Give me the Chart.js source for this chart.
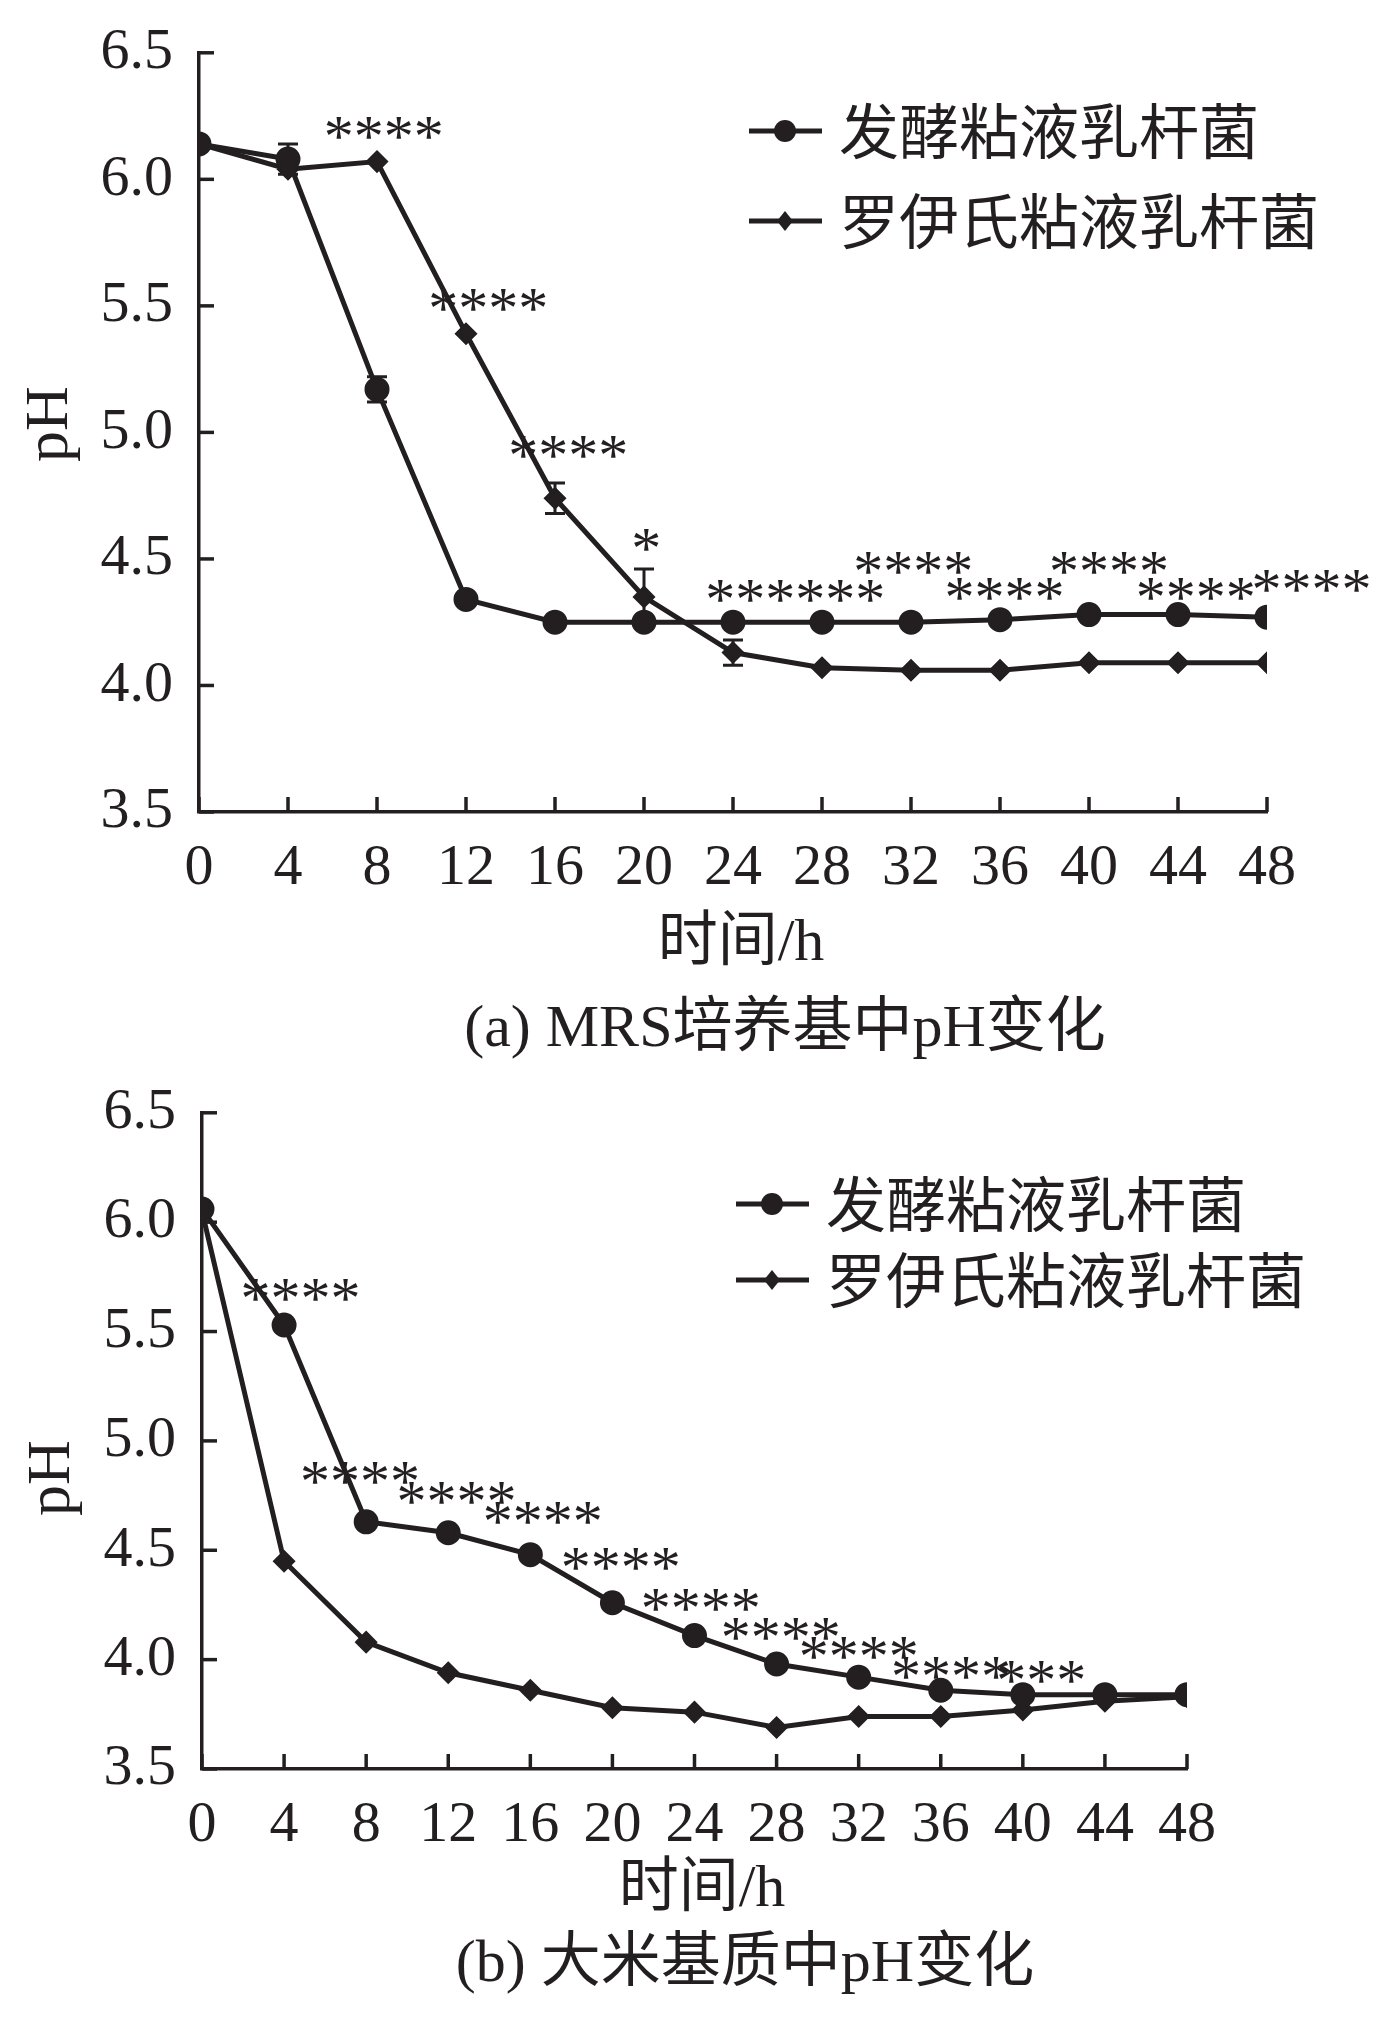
<!DOCTYPE html>
<html><head><meta charset="utf-8">
<script src="https://cdn.jsdelivr.net/npm/chart.js@4/dist/chart.umd.min.js"></script>
<style>
body{margin:0;background:#fff;width:1387px;height:2024px;overflow:hidden}
canvas{display:block}
</style></head><body>
<div style="width:1387px;height:1060px"><canvas id="c1"></canvas></div>
<div style="width:1387px;height:964px"><canvas id="c2"></canvas></div>
<script>
const hours = [0,4,8,12,16,20,24,28,32,36,40,44,48];
const yTicks = [3.5,4.0,4.5,5.0,5.5,6.0,6.5];
const seriesNames = ['发酵粘液乳杆菌','罗伊氏粘液乳杆菌'];

const mrsFermentum = [6.14,6.08,5.17,4.34,4.25,4.25,4.25,4.25,4.25,4.26,4.28,4.28,4.27];
const mrsReuteri   = [6.14,6.04,6.07,5.39,4.74,4.35,4.13,4.07,4.06,4.06,4.09,4.09,4.09];
const mrsFermentumErr = [0.02,0.06,0.05,0.02,0.01,0.01,0.01,0.01,0.01,0.01,0.01,0.01,0.01];
const mrsReuteriErr   = [0.02,0.02,0.01,0.02,0.06,0.11,0.05,0.01,0.01,0.01,0.01,0.01,0.01];
const mrsStars = [
  {x:8.3,y:6.21,t:'****'},{x:13.0,y:5.53,t:'****'},{x:16.6,y:4.95,t:'****'},
  {x:20.1,y:4.58,t:'*'},{x:26.8,y:4.38,t:'******'},{x:32.1,y:4.49,t:'****'},
  {x:36.2,y:4.39,t:'****'},{x:40.9,y:4.49,t:'****'},{x:44.8,y:4.39,t:'****'},
  {x:50.0,y:4.42,t:'****'}
];

const riceFermentum = [6.06,5.53,4.63,4.58,4.48,4.26,4.11,3.98,3.92,3.86,3.84,3.84,3.84];
const riceReuteri   = [6.05,4.45,4.08,3.94,3.86,3.78,3.76,3.69,3.74,3.74,3.77,3.81,3.83];
const riceReuteriErr = [0.01,0.01,0.01,0.01,0.01,0.01,0.01,0.01,0.01,0.01,0.01,0.01,0.01];
const riceStars = [
  {x:4.8,y:5.70,t:'****'},{x:7.7,y:4.86,t:'****'},{x:12.4,y:4.77,t:'****'},
  {x:16.6,y:4.68,t:'****'},{x:20.4,y:4.47,t:'****'},{x:24.3,y:4.28,t:'****'},
  {x:28.2,y:4.15,t:'****'},{x:32.0,y:4.06,t:'****'},{x:36.5,y:3.97,t:'****'},
  {x:40.9,y:3.95,t:'***'}
];

const INK = '#231f20';
const SERIF = '"Liberation Serif","Noto Sans CJK SC",serif';
const CJK = '"Noto Sans CJK SC","Liberation Serif",sans-serif';

function makeChart(id, opts) {
  const decor = {
    id: 'decor',
    afterDatasetsDraw(chart) {
      const c = chart.ctx, xs = chart.scales.x, ys = chart.scales.y, a = chart.chartArea;
      c.save();
      c.strokeStyle = INK; c.fillStyle = INK; c.lineWidth = 3.5;
      // inward tick marks
      hours.forEach(h => { const px = xs.getPixelForValue(h); c.beginPath(); c.moveTo(px, a.bottom); c.lineTo(px, a.bottom - 15); c.stroke(); });
      yTicks.forEach(v => { const py = ys.getPixelForValue(v); c.beginPath(); c.moveTo(a.left, py); c.lineTo(a.left + 15, py); c.stroke(); });
      // error bars
      (opts.errs || []).forEach((err, di) => {
        const data = chart.data.datasets[di].data;
        err.forEach((e, i) => {
          if (e < 0.03) return;
          const px = xs.getPixelForValue(hours[i]);
          const p1 = ys.getPixelForValue(data[i].y + e), p2 = ys.getPixelForValue(data[i].y - e);
          c.lineWidth = 3;
          c.beginPath(); c.moveTo(px, p1); c.lineTo(px, p2);
          c.moveTo(px - 10, p1); c.lineTo(px + 10, p1); c.moveTo(px - 10, p2); c.lineTo(px + 10, p2); c.stroke();
        });
      });
      // significance stars
      c.font = '60px ' + SERIF; c.textAlign = 'center'; c.textBaseline = 'middle';
      opts.stars.forEach(s => c.fillText(s.t, xs.getPixelForValue(s.x), ys.getPixelForValue(s.y) + 14));
      // legend
      c.lineWidth = 5;
      opts.legendY.forEach((ly, i) => {
        c.beginPath(); c.moveTo(opts.legendX, ly); c.lineTo(opts.legendX + 73, ly); c.stroke();
        const cx = opts.legendX + 36;
        c.beginPath();
        if (i === 0) c.arc(cx, ly, 11, 0, Math.PI * 2);
        else { c.moveTo(cx, ly - 10); c.lineTo(cx + 8, ly); c.lineTo(cx, ly + 10); c.lineTo(cx - 8, ly); c.closePath(); }
        c.fill();
        c.font = '60px ' + CJK; c.textAlign = 'left';
        c.fillText(seriesNames[i], opts.legendX + 90, ly);
      });
      // axis titles and caption
      c.textAlign = 'center';
      c.font = '60px ' + SERIF;
      c.fillText('时间/h', opts.xTitle[0], opts.xTitle[1]);
      c.fillText(opts.caption, opts.capPos[0], opts.capPos[1]);
      c.save(); c.translate(opts.yTitle[0], opts.yTitle[1]); c.rotate(-Math.PI / 2);
      c.font = '62px ' + SERIF; c.fillText('pH', 0, 0); c.restore();
      c.restore();
    }
  };
  return new Chart(document.getElementById(id), {
    type: 'line',
    data: {
      datasets: [
        { data: opts.d1, borderColor: INK, backgroundColor: INK, borderWidth: 5, pointStyle: 'circle', pointRadius: 10, tension: 0 },
        { data: opts.d2, borderColor: INK, backgroundColor: INK, borderWidth: 5, pointStyle: 'rectRot', pointRadius: 8, tension: 0 }
      ].map(d => ({ ...d, data: d.data.map((v, i) => ({ x: hours[i], y: v })) }))
    },
    options: {
      responsive: true, maintainAspectRatio: false, animation: false,
      layout: { padding: { top: opts.top, right: opts.right, left: 0, bottom: 0 } },
      plugins: { legend: { display: false }, tooltip: { enabled: false } },
      scales: {
        x: {
          type: 'linear', min: 0, max: 48,
          afterBuildTicks: s => { s.ticks = hours.map(v => ({ value: v })); },
          afterFit: s => { s.height = opts.xH; },
          grid: { display: false }, border: { color: INK, width: 3.5 },
          ticks: { color: INK, font: { family: SERIF, size: 58 }, padding: 14, maxRotation: 0, autoSkip: false }
        },
        y: {
          min: 3.5, max: 6.5,
          afterBuildTicks: s => { s.ticks = yTicks.map(v => ({ value: v })); },
          afterFit: s => { s.width = opts.yW; },
          grid: { display: false }, border: { color: INK, width: 3.5 },
          ticks: { color: INK, font: { family: SERIF, size: 58 }, padding: 18, callback: v => v.toFixed(1) }
        }
      }
    },
    plugins: [decor]
  });
}

makeChart('c1', {
  d1: mrsFermentum, d2: mrsReuteri, errs: [mrsFermentumErr, mrsReuteriErr], stars: mrsStars,
  top: 33, right: 120, xH: 248, yW: 199,
  legendX: 749, legendY: [131, 221],
  xTitle: [741, 944], capPos: [785, 1030], yTitle: [51, 424],
  caption: '(a) MRS培养基中pH变化'
});
makeChart('c2', {
  d1: riceFermentum, d2: riceReuteri, errs: [[], riceReuteriErr], stars: riceStars,
  top: 44, right: 200, xH: 255, yW: 202,
  legendX: 736, legendY: [144, 220],
  xTitle: [702, 830], capPos: [745, 905], yTitle: [53, 418],
  caption: '(b) 大米基质中pH变化'
});
</script>
</body></html>
